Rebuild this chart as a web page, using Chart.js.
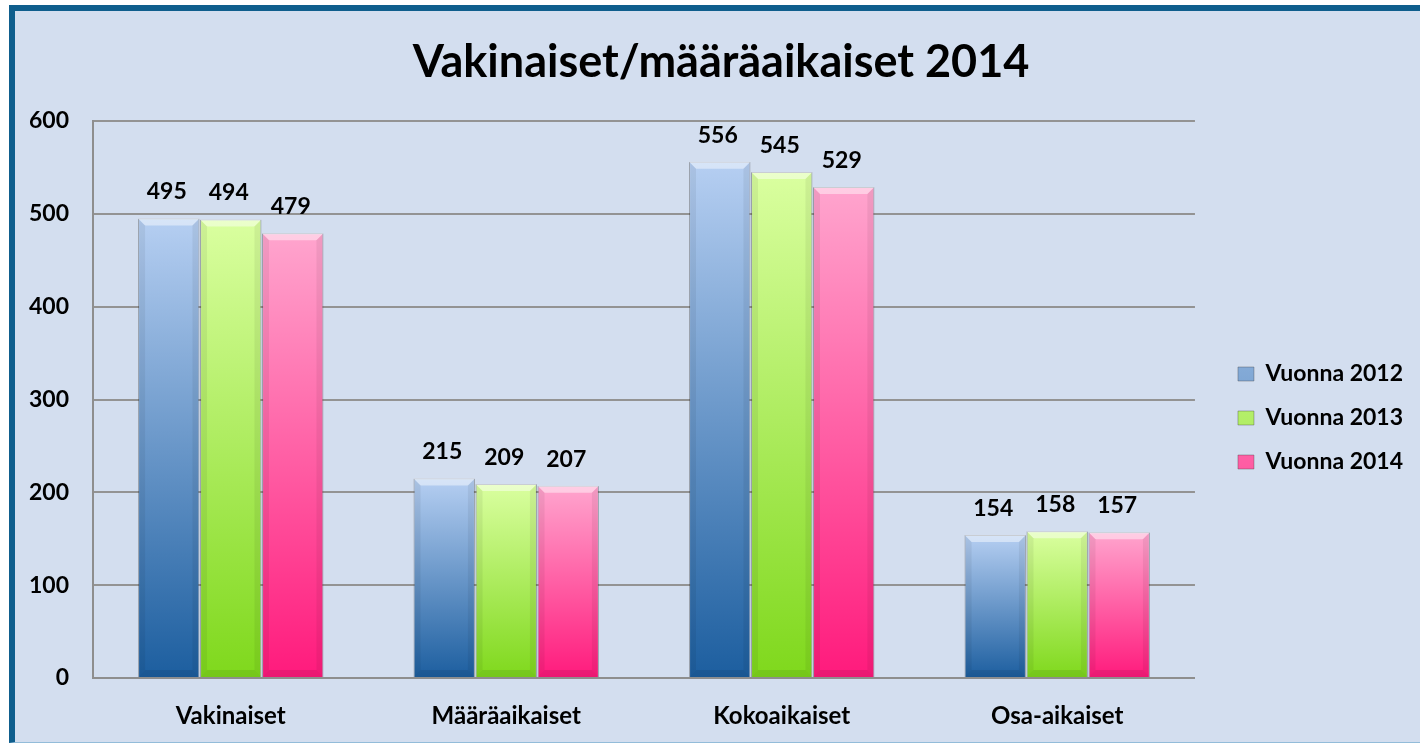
<!DOCTYPE html>
<html>
<head>
<meta charset="utf-8">
<script src="https://cdn.jsdelivr.net/npm/chart.js@4.4.1/dist/chart.umd.min.js"></script>
<style>
  html, body { margin: 0; padding: 0; background: #ffffff; overflow: hidden; }
  #frame {
    position: absolute; left: 9px; top: 5px; width: 1420px; height: 738px;
    background: #d3deef;
    border-top: 6px solid #0f5e8d;
    border-left: 6px solid #0f5e8d;
    border-bottom: 1px solid #93bcd9;
    box-sizing: border-box;
  }
  #wrap { position: absolute; left: 0; top: 0; width: 1405px; height: 731px; }
</style>
</head>
<body>
<div id="frame"><div id="wrap"><canvas id="chart"></canvas></div></div>
<script>
const categories = ["Vakinaiset", "Määräaikaiset", "Kokoaikaiset", "Osa-aikaiset"];
const seriesNames = ["Vuonna 2012", "Vuonna 2013", "Vuonna 2014"];
const values2012 = [495, 215, 556, 154];
const values2013 = [494, 209, 545, 158];
const values2014 = [479, 207, 529, 157];
const yTicks = [0, 100, 200, 300, 400, 500, 600];

// top / bottom colours of each series gradient
const palette = [
    {top: "#b6cff2", mid: "#5b86c2", bottom: "#1c5e9f"},
    {top: "#daffa0", mid: "#a8ec52", bottom: "#7fd81c"},
    {top: "#ffa5ce", mid: "#ff5ea3", bottom: "#ff1a7c"}
];

const FONT = "Lato, 'Liberation Sans', sans-serif";

function barFill(i) {
    return function (ctx) {
        const p = palette[i];
        if (ctx.type !== "data") return p.mid;
        const chart = ctx.chart;
        if (!chart.chartArea || !chart.scales.y) return p.mid;
        const y = chart.scales.y;
        const top = y.getPixelForValue(ctx.raw);
        const base = y.getPixelForValue(0);
        const g = chart.ctx.createLinearGradient(0, top, 0, base);
        g.addColorStop(0, p.top);
        g.addColorStop(1, p.bottom);
        return g;
    };
}

// bevel look + value labels on top of bars
const barDecor = {
    id: "barDecor",
    afterDatasetsDraw(chart) {
        const c = chart.ctx;
        chart.data.datasets.forEach((ds, di) => {
            const meta = chart.getDatasetMeta(di);
            meta.data.forEach((bar, idx) => {
                const {x, y, width, base} = bar.getProps(["x", "y", "width", "base"], true);
                const l = x - width / 2, r = x + width / 2, b = 7;
                c.save();
                c.fillStyle = "rgba(255,255,255,0.45)";
                c.beginPath();
                c.moveTo(l, y); c.lineTo(r, y); c.lineTo(r - b, y + b); c.lineTo(l + b, y + b);
                c.closePath(); c.fill();
                c.fillStyle = "rgba(0,0,0,0.06)";
                c.beginPath();
                c.moveTo(l, y); c.lineTo(l + b, y + b); c.lineTo(l + b, base - b); c.lineTo(l, base);
                c.closePath(); c.fill();
                c.beginPath();
                c.moveTo(r, y); c.lineTo(r - b, y + b); c.lineTo(r - b, base - b); c.lineTo(r, base);
                c.closePath(); c.fill();
                c.fillStyle = "rgba(0,0,0,0.08)";
                c.beginPath();
                c.moveTo(l, base); c.lineTo(l + b, base - b); c.lineTo(r - b, base - b); c.lineTo(r, base);
                c.closePath(); c.fill();
                // value label
                c.fillStyle = "#000";
                c.font = "bold 23px " + FONT;
                c.textAlign = "center";
                c.textBaseline = "alphabetic";
                c.fillText(String(ds.data[idx]), x - 2, y - 19);
                c.restore();
            });
        });
    }
};

// legend box sits 43px right of the plot and a bit below centre
const legendPlace = {
    id: "legendPlace",
    afterInit(chart) {
        const lg = chart.legend;
        if (!lg) return;
        const fit = lg.fit.bind(lg);
        lg.fit = function () { fit(); this.width += 22; };
    },
    afterLayout(chart) {
        const lg = chart.legend;
        if (!lg) return;
        lg.left += 22;
        lg.top += 42;
        lg.bottom += 42;
    }
};

const seriesValues = [values2012, values2013, values2014];

new Chart(document.getElementById("chart"), {
    type: "bar",
    data: {
        labels: categories,
        datasets: seriesNames.map((name, i) => ({
            label: name,
            data: seriesValues[i],
            backgroundColor: barFill(i),
            borderColor: "rgba(60,60,60,0.35)",
            borderWidth: 1,
            categoryPercentage: 0.675,
            barPercentage: 0.99
        }))
    },
    options: {
        responsive: true,
        maintainAspectRatio: false,
        animation: false,
        layout: {padding: {top: 10, left: 14, right: 7, bottom: 11}},
        plugins: {
            title: {
                display: true,
                text: "Vakinaiset/määräaikaiset 2014",
                color: "#000",
                font: {family: FONT, size: 45, weight: "bold"},
                padding: {top: 14, bottom: 32}
            },
            legend: {
                position: "right",
                labels: {
                    color: "#000",
                    font: {family: FONT, size: 23, weight: "bold"},
                    boxWidth: 16,
                    boxHeight: 14,
                    padding: 21
                }
            },
            tooltip: {enabled: false}
        },
        scales: {
            x: {
                afterFit: (scale) => { scale.height = 53; },
                grid: {display: false, drawTicks: false},
                border: {display: true, color: "#8e8e8e", width: 2},
                ticks: {color: "#000", font: {family: FONT, size: 24, weight: "bold"}, padding: 24}
            },
            y: {
                min: yTicks[0],
                max: yTicks[yTicks.length - 1],
                afterBuildTicks: (scale) => { scale.ticks = yTicks.map(v => ({value: v})); },
                afterFit: (scale) => { scale.width = 64; },
                grid: {color: "#939393", lineWidth: 2, drawTicks: false},
                border: {display: true, color: "#8e8e8e", width: 2},
                ticks: {color: "#000", font: {family: FONT, size: 23, weight: "bold"}, padding: 24}
            }
        }
    },
    plugins: [barDecor, legendPlace]
});
</script>
</body>
</html>
